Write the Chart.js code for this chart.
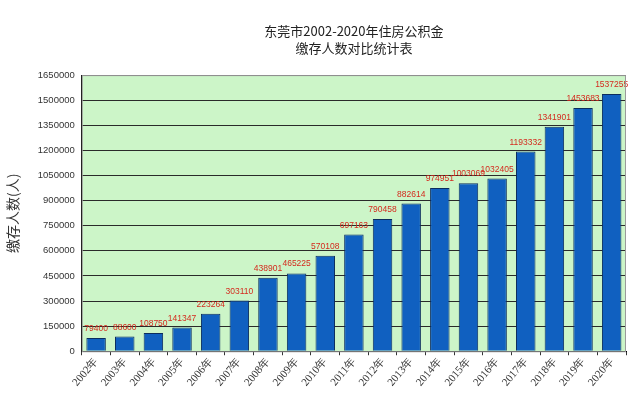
<!DOCTYPE html>
<html>
<head>
<meta charset="utf-8">
<script src="https://cdn.jsdelivr.net/npm/chart.js@4/dist/chart.umd.min.js"></script>
<style>
  html, body { margin: 0; padding: 0; background: #fff; }
  #wrap { width: 640px; height: 405px; }
</style>
</head>
<body>
<div id="wrap"><canvas id="chart"></canvas></div>
<script>
const years = ['2002年', '2003年', '2004年', '2005年', '2006年', '2007年', '2008年', '2009年', '2010年',
  '2011年', '2012年', '2013年', '2014年', '2015年', '2016年', '2017年', '2018年', '2019年', '2020年'];
const payers = [79400, 88600, 108750, 141347, 223264, 303110, 438901, 465225, 570108,
  697163, 790458, 882614, 974951, 1003069, 1032405, 1193332, 1341901, 1453683, 1537255];
const titleLines = ['东莞市2002-2020年住房公积金', '缴存人数对比统计表'];
const yTitle = '缴存人数(人)';

// green plot background + grey frame
const plotBg = {
  id: 'plotBg',
  beforeDraw(chart) {
    const { ctx, chartArea: a } = chart;
    ctx.save();
    ctx.fillStyle = '#ccf5c8';
    ctx.fillRect(a.left, a.top, a.right - a.left, a.bottom - a.top);
    ctx.restore();
  },
  afterDraw(chart) {
    const { ctx, chartArea: a } = chart;
    ctx.save();
    ctx.strokeStyle = '#9a9a9a';
    ctx.lineWidth = 1;
    ctx.strokeRect(a.left + 0.5, a.top + 0.5, a.right - a.left - 1, a.bottom - a.top);
    ctx.restore();
  }
};

// value labels above each bar
const barLabels = {
  id: 'barLabels',
  afterDatasetsDraw(chart) {
    const { ctx } = chart;
    const meta = chart.getDatasetMeta(0);
    ctx.save();
    ctx.font = '8.5px "Liberation Sans", Arial, sans-serif';
    ctx.fillStyle = '#d42a1e';
    ctx.textAlign = 'center';
    ctx.textBaseline = 'bottom';
    meta.data.forEach((bar, i) => {
      ctx.fillText(String(payers[i]), bar.x, bar.y - 5);
    });
    ctx.restore();
  }
};

new Chart(document.getElementById('chart'), {
  type: 'bar',
  data: {
    labels: years,
    datasets: [{
      data: payers,
      backgroundColor: '#1060c0',
      borderColor: '#0b2d5e',
      borderWidth: 1,
      categoryPercentage: 1,
      barPercentage: 0.68
    }]
  },
  options: {
    responsive: true,
    maintainAspectRatio: false,
    animation: false,
    layout: { padding: { top: 22, right: 14, bottom: 16, left: 4 } },
    plugins: {
      legend: { display: false },
      tooltip: { enabled: false },
      title: {
        display: true,
        text: titleLines,
        fullSize: false,
        color: '#222',
        font: { family: '"Noto Sans CJK SC", sans-serif', size: 13, weight: 'normal', lineHeight: 1.35 },
        padding: { top: 0, bottom: 18 }
      }
    },
    scales: {
      x: {
        offset: true,
        border: { color: '#000', width: 1 },
        grid: { display: true, drawOnChartArea: false, offset: true, color: '#333', tickLength: 4 },
        ticks: {
          minRotation: 50, maxRotation: 50,
          color: '#333',
          padding: 0,
          font: { family: '"Liberation Serif", serif', size: 11 }
        }
      },
      y: {
        min: 0,
        max: 1650000,
        border: { color: '#000', width: 1 },
        grid: { color: '#2a2a2a', lineWidth: 1, drawTicks: false },
        ticks: {
          stepSize: 150000,
          color: '#333',
          padding: 7,
          font: { family: '"Liberation Sans", Arial, sans-serif', size: 9.5 },
          callback: v => String(v)
        },
        title: {
          display: true,
          text: yTitle,
          color: '#333',
          padding: { top: 0, bottom: 10 },
          font: { family: '"Noto Sans CJK SC", serif', size: 14 }
        }
      }
    }
  },
  plugins: [plotBg, barLabels]
});
</script>
</body>
</html>
